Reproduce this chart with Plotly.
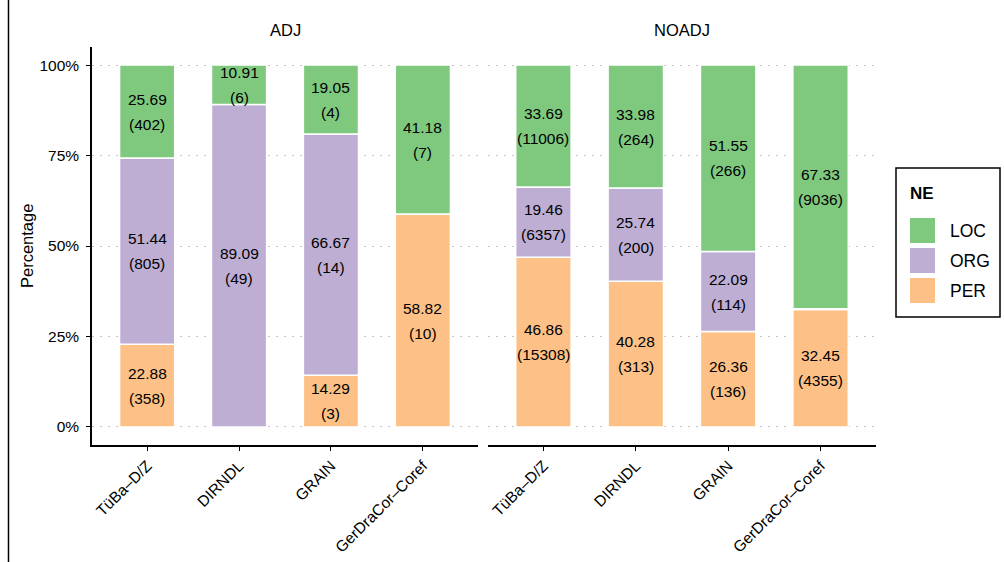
import plotly.graph_objects as go
from plotly.subplots import make_subplots

# Corpora on the x axis and the two facets
corpora = ["TüBa–D/Z", "DIRNDL", "GRAIN", "GerDraCor–Coref"]
facets = ["ADJ", "NOADJ"]
entity_types = ["PER", "ORG", "LOC"]          # stacking order, bottom to top
legend_order = ["LOC", "ORG", "PER"]

# Percentages per entity type (ADJ facet)
adj_per_pct = [22.88, 0.0, 14.29, 58.82]
adj_org_pct = [51.44, 89.09, 66.67, 0.0]
adj_loc_pct = [25.69, 10.91, 19.05, 41.18]
# Counts per entity type (ADJ facet)
adj_per_n = [358, 0, 3, 10]
adj_org_n = [805, 49, 14, 0]
adj_loc_n = [402, 6, 4, 7]

# Percentages per entity type (NOADJ facet)
noadj_per_pct = [46.86, 40.28, 26.36, 32.45]
noadj_org_pct = [19.46, 25.74, 22.09, 0.22]
noadj_loc_pct = [33.69, 33.98, 51.55, 67.33]
# Counts per entity type (NOADJ facet)
noadj_per_n = [15308, 313, 136, 4355]
noadj_org_n = [6357, 200, 114, 29]
noadj_loc_n = [11006, 264, 266, 9036]

y_tick_vals = [0, 25, 50, 75, 100]
y_tick_text = ["0%", "25%", "50%", "75%", "100%"]

colors = {"LOC": "#7FC97F", "ORG": "#BEAED4", "PER": "#FDC086"}

data = {
    "ADJ": {
        "PER": (adj_per_pct, adj_per_n),
        "ORG": (adj_org_pct, adj_org_n),
        "LOC": (adj_loc_pct, adj_loc_n),
    },
    "NOADJ": {
        "PER": (noadj_per_pct, noadj_per_n),
        "ORG": (noadj_org_pct, noadj_org_n),
        "LOC": (noadj_loc_pct, noadj_loc_n),
    },
}

FONT = "Liberation Sans, Arial, sans-serif"
W, H = 1004, 562
ML, MR, MT, MB = 92, 128, 47, 117
PW, PH = W - ML - MR, H - MT - MB


def px_x(px):
    return (px - ML) / PW


def px_y(py):
    return (H - MB - py) / PH


fig = make_subplots(rows=1, cols=2, horizontal_spacing=0.0128)

annotations = []
for col, facet in enumerate(facets, start=1):
    xref = "x" if col == 1 else "x2"
    yref = "y" if col == 1 else "y2"
    base = [0.0] * len(corpora)
    for ne in entity_types:
        pct, counts = data[facet][ne]
        fig.add_trace(
            go.Bar(
                x=corpora, y=pct, base=base[:], width=0.6,
                marker=dict(color=colors[ne], line=dict(color="white", width=1.5)),
                name=ne, showlegend=False, hoverinfo="skip",
            ),
            row=1, col=col,
        )
        for i, (v, n) in enumerate(zip(pct, counts)):
            if v >= 1:
                mid = base[i] + v / 2
                for txt, shift in ((f"{v:.2f}", 12.5), (f"({n})", -12.5)):
                    annotations.append(dict(
                        x=corpora[i], y=mid, xref=xref, yref=yref, text=txt,
                        showarrow=False, yshift=shift,
                        xanchor="center", yanchor="middle",
                        font=dict(family=FONT, size=15.5, color="black"),
                    ))
            base[i] += v

# Facet titles
for facet, (x0, x1) in zip(facets, [(92, 478), (488, 876)]):
    annotations.append(dict(
        x=px_x((x0 + x1) / 2), y=px_y(30), xref="paper", yref="paper",
        text=facet, showarrow=False, xanchor="center", yanchor="middle",
        font=dict(family=FONT, size=16.5, color="black"),
    ))

# Y axis title
annotations.append(dict(
    x=px_x(27), y=px_y(246), xref="paper", yref="paper", text="Percentage",
    showarrow=False, textangle=-90, xanchor="center", yanchor="middle",
    font=dict(family=FONT, size=16.5, color="black"),
))

# Legend drawn as box, title, keys and labels
shapes = [
    dict(type="rect", xref="paper", yref="paper",
         x0=px_x(896), x1=px_x(1000), y0=px_y(317), y1=px_y(168),
         line=dict(color="black", width=1.5), fillcolor="white"),
    dict(type="line", xref="paper", yref="paper",
         x0=px_x(8.5), x1=px_x(8.5), y0=px_y(0), y1=px_y(562),
         line=dict(color="black", width=1.5)),
]
annotations.append(dict(
    x=px_x(908), y=px_y(193), xref="paper", yref="paper", text="<b>NE</b>",
    showarrow=False, xanchor="left", yanchor="middle",
    font=dict(family=FONT, size=17, color="black"),
))
for k, ne in enumerate(legend_order):
    top = 218 + k * 30
    shapes.append(dict(
        type="rect", xref="paper", yref="paper",
        x0=px_x(910), x1=px_x(935), y0=px_y(top + 25), y1=px_y(top),
        line=dict(width=0), fillcolor=colors[ne],
    ))
    annotations.append(dict(
        x=px_x(948), y=px_y(top + 12.5), xref="paper", yref="paper", text=ne,
        showarrow=False, xanchor="left", yanchor="middle",
        font=dict(family=FONT, size=17.5, color="black"),
    ))

fig.update_layout(
    width=W, height=H, barmode="overlay",
    margin=dict(l=ML, r=MR, t=MT, b=MB, autoexpand=False),
    paper_bgcolor="white", plot_bgcolor="white",
    annotations=annotations, shapes=shapes,
    showlegend=False,
    font=dict(family=FONT, size=15, color="black"),
)

xaxis_common = dict(
    type="category", categoryorder="array", categoryarray=corpora,
    range=[-0.6, 3.6], showline=True, linecolor="black", linewidth=1.5,
    ticks="outside", ticklen=4, tickwidth=1.2, tickcolor="black",
    tickangle=-45, showgrid=False, zeroline=False, automargin=False,
    tickfont=dict(family=FONT, size=15.5, color="black"),
)
fig.update_layout(
    xaxis=dict(domain=[0, 386 / PW], **xaxis_common),
    xaxis2=dict(domain=[396 / PW, 1], **xaxis_common),
)

yaxis_common = dict(
    range=[-5, 105], tickvals=y_tick_vals, ticktext=y_tick_text,
    showgrid=True, gridcolor="#C4C4C4", gridwidth=1.4, griddash="1.5px,6.5px",
    zeroline=False, automargin=False,
)
fig.update_layout(
    yaxis=dict(
        showline=True, linecolor="black", linewidth=1.5,
        ticks="outside", ticklen=4, tickwidth=1.2, tickcolor="black",
        ticklabelstandoff=4,
        tickfont=dict(family=FONT, size=15.5, color="black"),
        **yaxis_common,
    ),
    yaxis2=dict(
        showline=False, ticks="", showticklabels=False, matches="y",
        **yaxis_common,
    ),
)

fig.write_html("out.html")
